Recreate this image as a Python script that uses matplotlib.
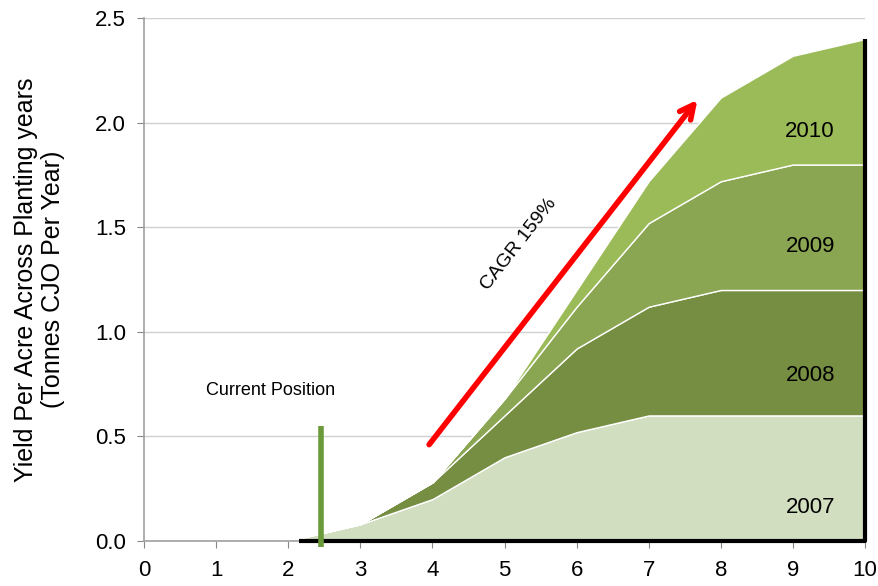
import matplotlib.pyplot as plt
import numpy as np

plt.rcParams['font.family'] = ['Liberation Sans', 'DejaVu Sans']

# Années après plantation
years_after = [0, 1, 2, 3, 4, 5, 6, 7, 8, 9, 10]

# Rendement par cohorte de plantation (tonnes CJO / acre / an)
y2007 = [0, 0, 0, 0.08, 0.20, 0.40, 0.52, 0.60, 0.60, 0.60, 0.60]
y2008 = [0, 0, 0, 0, 0.08, 0.20, 0.40, 0.52, 0.60, 0.60, 0.60]
y2009 = [0, 0, 0, 0, 0, 0.08, 0.20, 0.40, 0.52, 0.60, 0.60]
y2010 = [0, 0, 0, 0, 0, 0, 0.08, 0.20, 0.40, 0.52, 0.60]
cohorts = ["2007", "2008", "2009", "2010"]

current_position = 2.45
colors = ["#d2dec0", "#768e42", "#8ba652", "#9bbb59"]

fig = plt.figure(figsize=(8.79, 5.86), dpi=100)
ax = fig.add_axes([0.164, 0.077, 0.82, 0.892])

ax.stackplot(years_after, y2007, y2008, y2009, y2010, colors=colors,
             edgecolor="white", linewidth=1, zorder=2)

# Contour noir bas / droite
total = np.array(y2007) + np.array(y2008) + np.array(y2009) + np.array(y2010)
ax.plot([2.15, years_after[-1], years_after[-1]], [0, 0, total[-1]],
        color="black", lw=3, zorder=3, solid_capstyle="butt", clip_on=False)

# Position actuelle
ax.plot([current_position, current_position], [-0.03, 0.55], color="#6a9a3a",
        lw=4, zorder=4, solid_capstyle="butt", clip_on=False)
ax.text(1.75, 0.72, "Current Position", ha="center", va="center", fontsize=13)

# Flèche CAGR
ax.annotate("", xy=(7.7, 2.12), xytext=(3.93, 0.45),
            arrowprops=dict(arrowstyle="->,head_length=1.0,head_width=0.5",
                            color="red", lw=4), zorder=5)
ax.text(5.2, 1.42, "CAGR 159%", rotation=52, ha="center", va="center",
        fontsize=14)

# Étiquettes des cohortes
label_y = [0.16, 0.79, 1.41, 1.96]
for name, ly in zip(cohorts, label_y):
    ax.text(9.24, ly, name, ha="center", va="center", fontsize=16)

ax.set_xlim(0, 10)
ax.set_ylim(0, 2.5)
ax.set_xticks(range(0, 11))
ax.set_yticks(np.arange(0, 2.51, 0.5))
ax.set_yticklabels([f"{v:.1f}" for v in np.arange(0, 2.51, 0.5)])
ax.tick_params(labelsize=16, colors="#888888", labelcolor="black", length=5)
ax.tick_params(axis="x", pad=9)
ax.tick_params(axis="y", pad=8)
ax.grid(axis="y", color="#d0d0d0", lw=1, zorder=0)
ax.set_axisbelow(True)
for s in ["top", "right"]:
    ax.spines[s].set_visible(False)
for s in ["left", "bottom"]:
    ax.spines[s].set_color("#a0a0a0")
    ax.spines[s].set_linewidth(1.2)

ax.set_ylabel("Yield Per Acre Across Planting years\n(Tonnes CJO Per Year)",
              fontsize=18, labelpad=22, linespacing=1.15)

plt.savefig("out.png", dpi=100)
plt.close()
